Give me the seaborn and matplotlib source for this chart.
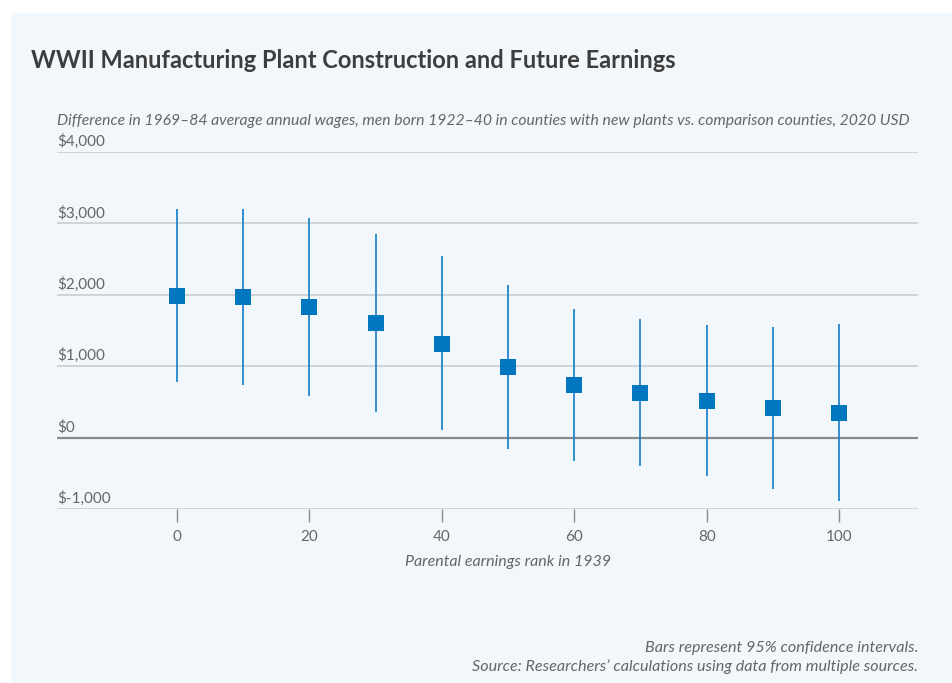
import matplotlib
matplotlib.use("Agg")
import matplotlib.pyplot as plt
import matplotlib.transforms as mtransforms
import seaborn as sns
import pandas as pd

# ---- data ----
rank = [0, 10, 20, 30, 40, 50, 60, 70, 80, 90, 100]
estimate = [1990, 1972, 1832, 1608, 1315, 993, 741, 629, 517, 420, 350]
ci_low = [773, 741, 587, 354, 107, -158, -322, -401, -536, -718, -881]
ci_high = [3207, 3198, 3073, 2853, 2545, 2136, 1800, 1660, 1580, 1552, 1594]
y_ticks = [-1000, 0, 1000, 2000, 3000, 4000]
y_tick_labels = ["$-1,000", "$0", "$1,000", "$2,000", "$3,000", "$4,000"]
x_ticks = [0, 20, 40, 60, 80, 100]

title = "WWII Manufacturing Plant Construction and Future Earnings"
subtitle = ("Difference in 1969\u201384 average annual wages, men born 1922\u201340 in counties "
            "with new plants vs. comparison counties, 2020 USD")
xlabel = "Parental earnings rank in 1939"
note1 = "Bars represent 95% confidence intervals."
note2 = "Source: Researchers\u2019 calculations using data from multiple sources."

df = pd.DataFrame({"rank": rank, "estimate": estimate, "lo": ci_low, "hi": ci_high})

sns.set_style("white")
plt.rcParams["font.family"] = ["Lato", "DejaVu Sans"]

BG = "#f2f7fb"
BLUE = "#0077c0"
GREY_TXT = "#666666"

W, H = 952, 683
fig = plt.figure(figsize=(W / 100, H / 100), dpi=100)
fig.patch.set_facecolor("white")
# light panel
fig.patches.append(plt.Rectangle((11 / W, 0), 1 - 11 / W, 1 - 13 / H,
                                 transform=fig.transFigure, facecolor=BG,
                                 edgecolor="none", zorder=-10))

ax = fig.add_axes([57 / W, 1 - 509 / H, (918 - 57) / W, (509 - 152) / H])
ax.set_facecolor(BG)
ax.patch.set_alpha(0)

ax.set_xlim(-18.1, 111.9)
ax.set_ylim(-1000, 4000)

# gridlines
for yv in y_ticks:
    if yv == 0:
        ax.axhline(yv, color="#8a8a8a", lw=1.6, zorder=1)
    else:
        ax.axhline(yv, color="#c9cdd1", lw=1.2, zorder=1)

# error bars
ax.vlines(df["rank"], df["lo"], df["hi"], color="#1a82c8", lw=1.25, zorder=2)
sns.scatterplot(data=df, x="rank", y="estimate", marker="s", s=118, color=BLUE,
                linewidth=0, ax=ax, zorder=3)

for s in ax.spines.values():
    s.set_visible(False)

ax.set_yticks([])
ax.set_xticks(x_ticks)
ax.set_xticklabels([str(v) for v in x_ticks])
ax.tick_params(axis="x", length=9, width=1, color="#8a8a8a", pad=6,
               labelsize=11, labelcolor=GREY_TXT, direction="out", bottom=True)
ax.set_xlabel("")
ax.set_ylabel("")

# y labels above gridlines
trans = mtransforms.blended_transform_factory(ax.transAxes, ax.transData)
off = mtransforms.offset_copy(trans, fig=fig, x=0, y=3, units="dots")
for yv, lab in zip(y_ticks, y_tick_labels):
    ax.text(0, yv, lab, transform=off, ha="left", va="bottom",
            fontsize=11, color=GREY_TXT)

# titles
fig.text(31 / W, 1 - 61 / H, title, fontsize=17, fontweight="bold",
         color="#3d3d3d", ha="left", va="center")
fig.text(57 / W, 1 - 121 / H, subtitle, fontsize=11.3, style="italic",
         color=GREY_TXT, ha="left", va="center")
fig.text(508 / W, 1 - 562 / H, xlabel, fontsize=11.5, style="italic",
         color=GREY_TXT, ha="center", va="center")
fig.text(918 / W, 1 - 648 / H, note1, fontsize=11.6, style="italic",
         color=GREY_TXT, ha="right", va="center")
fig.text(918 / W, 1 - 667 / H, note2, fontsize=11.6, style="italic",
         color=GREY_TXT, ha="right", va="center")

fig.savefig("out.png", dpi=100, facecolor=fig.get_facecolor())
